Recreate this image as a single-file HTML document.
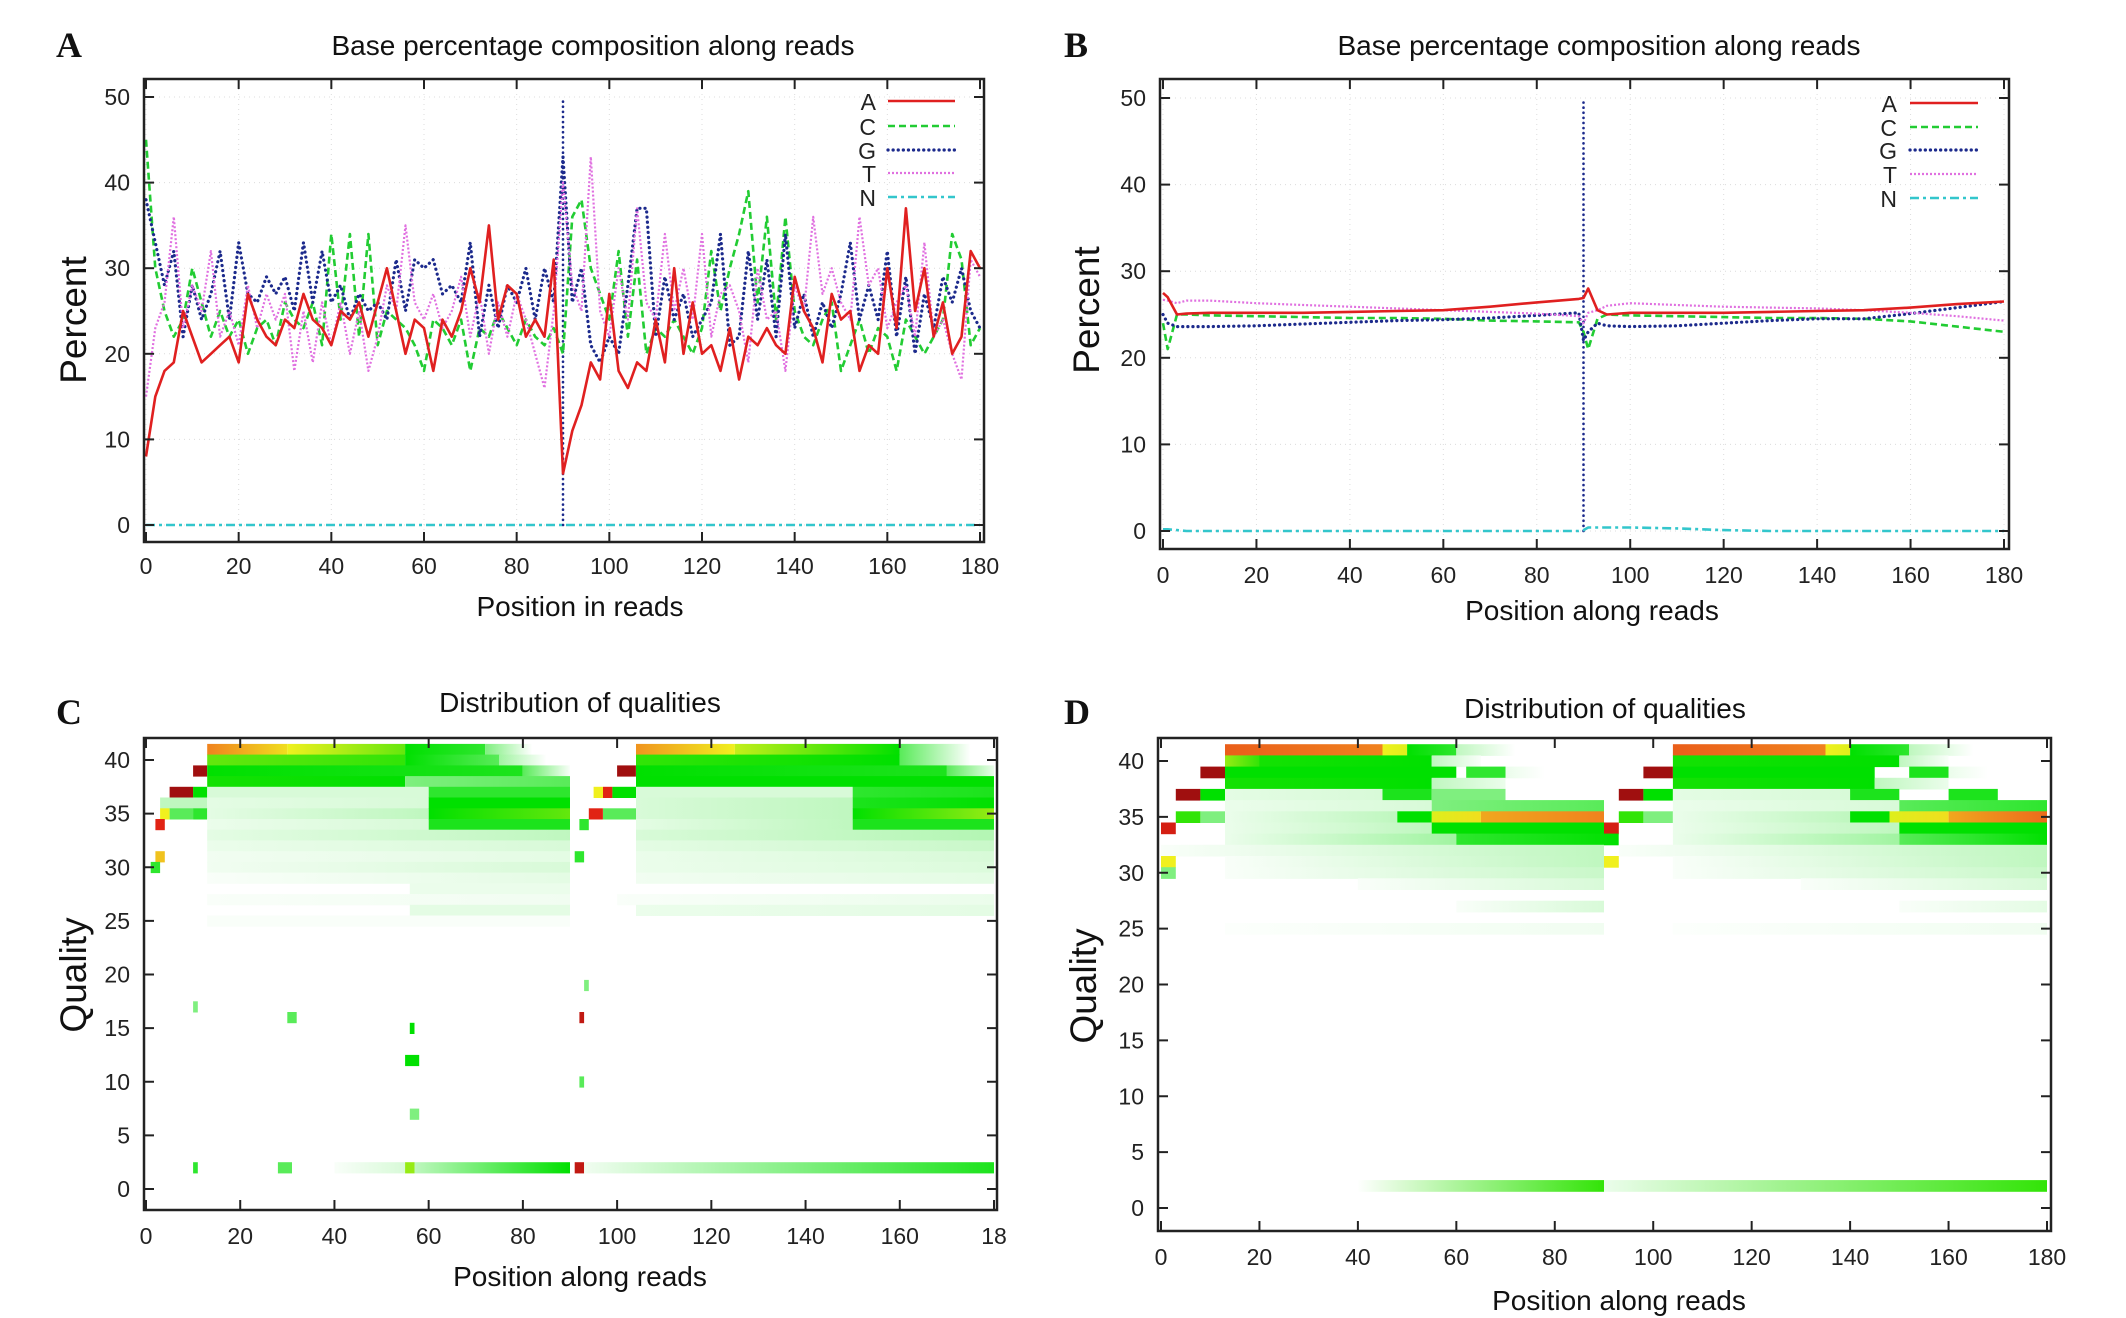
<!DOCTYPE html>
<html><head><meta charset="utf-8"><style>
html,body{margin:0;padding:0;background:#fff;}
svg{display:block;font-family:"Liberation Sans",sans-serif;}
</style></head><body>
<svg id="fig" width="2126" height="1318" viewBox="0 0 2126 1318" xmlns="http://www.w3.org/2000/svg"></svg>
<script>
// ---------- Panel A data (every 2 positions, 0..180) ----------
const posA = [];
for (let p = 0; p <= 180; p += 2) posA.push(p);
const aA = [8,15,18,19,25,22,19,20,21,22,19,27,24,22,21,24,23,27,24,23,21,25,24,26,22,26,30,25,20,24,23,18,24,22,25,30,26,35,24,28,27,22,24,22,31,6,11,14,19,17,27,18,16,19,18,24,19,30,20,26,20,21,18,23,17,22,21,23,21,20,29,25,23,19,27,24,25,18,21,20,30,23,37,25,30,22,26,20,22,32,30];
const cA = [45,30,25,22,24,30,26,22,25,22,24,20,23,24,21,26,24,23,26,21,34,24,34,22,34,21,25,24,23,21,18,24,23,21,24,18,23,22,25,23,21,24,22,21,23,20,36,38,30,27,24,32,22,31,20,23,22,24,22,20,23,32,25,30,34,39,26,36,24,36,25,22,21,24,26,18,21,24,20,23,22,18,24,22,20,22,24,34,31,21,23];
const gA = [38,33,28,32,22,28,24,27,32,24,33,27,26,29,27,29,25,33,26,32,26,28,24,27,25,26,24,31,25,31,30,31,27,28,26,33,22,28,23,28,26,30,24,30,26,43,26,30,21,19,22,20,28,37,37,22,29,24,27,22,24,26,34,21,22,32,24,31,22,34,23,27,22,26,23,27,33,24,28,24,32,22,29,20,27,23,29,26,30,25,23];
const tA = [15,23,26,36,23,28,25,32,22,25,21,28,23,27,24,27,18,25,19,26,21,26,20,25,18,22,28,25,35,26,24,27,23,25,29,22,27,20,26,22,27,24,20,16,25,40,28,25,43,25,22,30,24,37,26,24,34,25,30,24,34,22,27,28,25,19,30,24,25,18,28,25,36,27,30,26,24,36,28,30,23,26,28,22,33,22,24,20,17,31,29];
const nA = posA.map(()=>0);
const spikeA = [90, 0, 50];

// ---------- Panel B data ----------
const posB = [0,1,3,5,10,20,30,40,50,60,70,80,89,90,91,93,95,100,110,120,130,140,150,160,170,180];
const aB = [27.5,27,25,25.1,25.2,25.2,25.2,25.3,25.4,25.5,25.9,26.4,26.8,26.9,28,25.5,25,25.2,25.2,25.2,25.3,25.4,25.5,25.8,26.2,26.5];
const cB = [24,21,25,25,24.9,24.8,24.7,24.6,24.6,24.5,24.3,24.2,24.1,23,21,24.5,25,24.9,24.8,24.7,24.6,24.6,24.5,24.2,23.6,23];
const gB = [25,24,23.6,23.6,23.6,23.7,23.9,24.1,24.3,24.4,24.6,24.9,25.2,22,23,24,23.7,23.6,23.7,24,24.3,24.5,24.5,25.1,25.8,26.5];
const tB = [26.7,26.6,26.3,26.6,26.6,26.3,26.1,25.9,25.7,25.5,25.3,25.1,24.8,24,25.2,25.5,26,26.3,26.1,25.9,25.8,25.7,25.5,25.2,24.8,24.3];
const nB = [0.2,0.2,0.1,0,0,0,0,0,0,0,0,0,0,0.1,0.4,0.4,0.4,0.4,0.3,0.1,0,0,0,0,0,0];
const spikeB = [90, 0, 50];

// ---------- Panel C heatmap segments: [quality, startPos, endPos, startIntensity, endIntensity] ----------
const cSegs = [
 [41,13,30,0.82,0.72],[41,30,55,0.7,0.55],[41,55,72,0.45,0.4],[41,72,82,0.3,0],
 [41,104,125,0.8,0.7],[41,125,160,0.65,0.45],[41,160,175,0.35,0],
 [40,13,55,0.55,0.5],[40,55,75,0.45,0.35],[40,75,85,0.25,0],[40,104,160,0.5,0.45],[40,160,175,0.35,0],
 [39,10,13,1,1],[39,13,80,0.45,0.42],[39,80,90,0.35,0.05],[39,100,104,1,1],[39,104,170,0.45,0.42],[39,170,180,0.35,0.1],
 [38,13,55,0.47,0.45],[38,55,90,0.3,0.35],[38,104,180,0.45,0.45],
 [37,5,10,1,1],[37,10,13,0.45,0.45],[37,13,60,0.15,0.15],[37,60,90,0.4,0.4],[37,95,97,0.7,0.7],[37,97,99,0.9,0.9],[37,99,104,0.45,0.45],[37,104,150,0.15,0.15],[37,150,180,0.4,0.42],
 [36,3,13,0.2,0.2],[36,13,60,0.12,0.15],[36,60,90,0.45,0.45],[36,104,150,0.15,0.2],[36,150,180,0.42,0.45],
 [35,3,5,0.7,0.7],[35,5,10,0.35,0.35],[35,10,13,0.4,0.4],[35,13,60,0.12,0.2],[35,60,90,0.45,0.55],[35,94,97,0.9,0.9],[35,97,104,0.35,0.35],[35,104,150,0.15,0.2],[35,150,180,0.45,0.6],
 [34,2,4,0.9,0.9],[34,13,60,0.1,0.15],[34,60,90,0.42,0.42],[34,92,94,0.4,0.4],[34,104,150,0.12,0.2],[34,150,180,0.42,0.42],
 [33,13,90,0.12,0.2],[33,104,180,0.15,0.22],
 [32,13,90,0.1,0.15],[32,104,180,0.12,0.18],
 [31,2,4,0.75,0.75],[31,91,93,0.4,0.4],[31,13,90,0.08,0.12],[31,104,180,0.1,0.15],
 [30,1,3,0.4,0.4],[30,13,90,0.08,0.15],[30,104,180,0.1,0.14],
 [29,13,90,0.05,0.12],[29,104,180,0.08,0.12],
 [28,56,90,0.1,0.1],[27,13,90,0.05,0.08],[27,100,180,0.05,0.1],
 [26,56,90,0.12,0.12],[26,104,180,0.1,0.12],[25,13,90,0.05,0.05],
 [2,10,11,0.4,0.4],[2,28,31,0.35,0.35],[2,40,55,0.05,0.15],[2,55,57,0.6,0.6],[2,57,90,0.2,0.45],[2,91,93,0.95,0.95],[2,93,180,0.08,0.42],
 [16,92,93,0.95,0.95],[15,56,57,0.45,0.45],[12,55,58,0.45,0.45],[17,10,11,0.3,0.3],[16,30,32,0.35,0.35],[10,92,93,0.35,0.35],[7,56,58,0.3,0.3],[19,93,94,0.3,0.3]
];

// ---------- Panel D heatmap segments ----------
const dSegs = [
 [41,13,45,0.85,0.82],[41,45,50,0.7,0.68],[41,50,60,0.45,0.4],[41,60,72,0.2,0],
 [41,104,135,0.85,0.82],[41,135,140,0.7,0.68],[41,140,152,0.45,0.4],[41,152,165,0.2,0],
 [40,13,20,0.6,0.5],[40,20,55,0.47,0.45],[40,55,65,0.2,0.05],[40,104,150,0.47,0.45],[40,150,160,0.2,0.05],
 [39,8,13,1,1],[39,13,60,0.45,0.45],[39,62,70,0.4,0.4],[39,70,78,0.1,0],[39,98,104,1,1],[39,104,145,0.45,0.45],[39,152,160,0.42,0.42],[39,160,168,0.1,0],
 [38,13,55,0.47,0.45],[38,55,70,0.2,0.1],[38,104,145,0.47,0.45],[38,145,160,0.2,0.1],
 [37,3,8,1,1],[37,8,13,0.45,0.45],[37,13,45,0.12,0.15],[37,45,55,0.42,0.42],[37,55,70,0.3,0.3],[37,93,98,1,1],[37,98,104,0.45,0.45],[37,104,140,0.12,0.15],[37,140,150,0.42,0.42],[37,160,170,0.42,0.42],
 [36,13,55,0.1,0.15],[36,55,90,0.3,0.35],[36,104,150,0.1,0.15],[36,150,180,0.35,0.4],
 [35,3,8,0.5,0.5],[35,8,13,0.3,0.3],[35,13,48,0.1,0.2],[35,48,55,0.45,0.45],[35,55,65,0.68,0.72],[35,65,90,0.78,0.82],[35,93,98,0.5,0.5],[35,98,104,0.3,0.3],[35,104,140,0.1,0.2],[35,140,148,0.45,0.45],[35,148,160,0.68,0.72],[35,160,180,0.78,0.84],
 [34,0,3,0.92,0.92],[34,13,55,0.1,0.2],[34,55,90,0.45,0.45],[34,90,93,0.92,0.92],[34,104,150,0.1,0.2],[34,150,180,0.45,0.45],
 [33,13,60,0.1,0.25],[33,60,93,0.4,0.45],[33,104,150,0.1,0.25],[33,150,180,0.35,0.45],
 [32,0,90,0.05,0.2],[32,93,180,0.05,0.2],
 [31,0,3,0.7,0.7],[31,90,93,0.7,0.7],[31,13,90,0.05,0.2],[31,104,180,0.05,0.2],
 [30,0,3,0.3,0.3],[30,13,90,0.05,0.18],[30,104,180,0.05,0.18],
 [29,40,90,0.05,0.15],[29,130,180,0.05,0.15],
 [27,60,90,0.05,0.15],[27,150,180,0.05,0.12],
 [25,13,90,0.03,0.08],[25,104,180,0.03,0.08],
 [2,40,90,0.02,0.5],[2,90,180,0.1,0.5]
];

const xTicks = [0,20,40,60,80,100,120,140,160,180];
const xTickLabelsC = ["0","20","40","60","80","100","120","140","160","18"];
const yTicksPct = [0,10,20,30,40,50];
const yTicksQ = [0,5,10,15,20,25,30,35,40];
const legendKeys = ["A","C","G","T","N"];

const NS = "http://www.w3.org/2000/svg";
const svg = document.getElementById('fig');
function mk(tag, attrs, parent, text){
  const e = document.createElementNS(NS, tag);
  for (const k in attrs) e.setAttribute(k, attrs[k]);
  if (text !== undefined) e.textContent = text;
  (parent || svg).appendChild(e);
  return e;
}
const defs = mk('defs', {});

const STY = {
  A:{stroke:'#e02020', dash:'', w:2.6, cap:'butt'},
  C:{stroke:'#22cc33', dash:'7,4', w:2.6, cap:'butt'},
  G:{stroke:'#1c2a8c', dash:'0.1,5', w:3.2, cap:'round'},
  T:{stroke:'#e070e0', dash:'2,2', w:2.2, cap:'butt'},
  N:{stroke:'#33c6cc', dash:'9,4,3,4', w:2.6, cap:'butt'}
};

function frame(g, box, xs, ys, xTickVals, yTickVals){
  xTickVals.forEach(v=>{
    const l = mk('line',{x1:xs(v),x2:xs(v),y1:box.t,y2:box.b,stroke:'#dcdcdc','stroke-width':1,'stroke-dasharray':'1,4'},g);
     
  });
  yTickVals.forEach(v=>{
    const l = mk('line',{x1:box.l,x2:box.r,y1:ys(v),y2:ys(v),stroke:'#dcdcdc','stroke-width':1,'stroke-dasharray':'1,4'},g);
     
  });
}
function axes(g, box, xs, ys, xTickVals, xLabels, yTickVals, o){
  const r = mk('rect',{x:box.l,y:box.t,width:box.r-box.l,height:box.b-box.t,fill:'none',stroke:'#222','stroke-width':2.5},g);
   
  xTickVals.forEach((v,i)=>{
    const x = xs(v);
    mk('line',{x1:x,x2:x,y1:box.b,y2:box.b-10,stroke:'#222','stroke-width':2},g);
    mk('line',{x1:x,x2:x,y1:box.t,y2:box.t+10,stroke:'#222','stroke-width':2},g);
    const t = mk('text',{x:x,y:o.xTickY,'text-anchor':'middle','font-size':23,fill:'#222'},g,xLabels[i]);
     
  });
  yTickVals.forEach(v=>{
    const y = ys(v);
    mk('line',{x1:box.l,x2:box.l+10,y1:y,y2:y,stroke:'#222','stroke-width':2},g);
    mk('line',{x1:box.r,x2:box.r-10,y1:y,y2:y,stroke:'#222','stroke-width':2},g);
    const t = mk('text',{x:box.l-14,y:y+8,'text-anchor':'end','font-size':23,fill:'#222'},g,String(v));
     
  });
  const tt = mk('text',{x:o.titleX,y:o.titleY,'text-anchor':'middle','font-size':28,fill:'#111'},g,o.title);
   
  const xl = mk('text',{x:o.xlX,y:o.xlY,'text-anchor':'middle','font-size':28,fill:'#111'},g,o.xlabel);
   
  const yl = mk('text',{x:0,y:0,'text-anchor':'middle','font-size':37,fill:'#111',transform:`translate(${o.ylX},${o.ylY}) rotate(-90)`},g,o.ylabel);
   
  const pl = mk('text',{x:o.letterX,y:o.letterY,'font-size':36,'font-weight':'bold','font-family':'"Liberation Serif",serif',fill:'#111'},g,o.letter);
   
}

function linePanel(o, pos, series, spike){
  const g = mk('g',{});  
  const box = o.box;
  const xs = v => o.x0 + (v/180)*(o.x180-o.x0);
  const ys = v => o.y0 + (v/50)*(o.y50-o.y0);
  frame(g, box, xs, ys, xTicks, yTicksPct);
  const sp = mk('line',{x1:xs(spike[0]),x2:xs(spike[0]),y1:ys(spike[1]),y2:ys(spike[2]),stroke:STY.G.stroke,'stroke-width':2.6,'stroke-dasharray':'0.1,5','stroke-linecap':'round'},g);
   
  ['C','G','T','A','N'].forEach(k=>{
    const vals = series[k];
    const d = vals.map((v,i)=>(i?'L':'M')+xs(pos[i]).toFixed(1)+','+ys(v).toFixed(1)).join(' ');
    const s = STY[k];
    const p = mk('path',{d:d,fill:'none',stroke:s.stroke,'stroke-width':s.w,'stroke-dasharray':s.dash,'stroke-linecap':s.cap,'stroke-linejoin':'round'},g);
     
  });
  legendKeys.forEach((k,i)=>{
    const y = o.legY[i];
    const lt = mk('text',{x:o.legTextX,y:y+9,'text-anchor':'end','font-size':23,fill:'#222'},g,k);
     
    const s = STY[k];
    const ll = mk('line',{x1:o.legL0,x2:o.legL1,y1:y,y2:y,stroke:s.stroke,'stroke-width':s.w,'stroke-dasharray':s.dash,'stroke-linecap':s.cap},g);
     
  });
  axes(g, box, xs, ys, xTicks, xTicks.map(String), yTicksPct, o);
}

const STOPS = [[0,[255,255,255]],[0.45,[0,224,0]],[0.6,[150,235,20]],[0.7,[240,240,30]],[0.82,[240,130,30]],[0.9,[225,35,20]],[1,[160,15,15]]];
function col(v){
  v = Math.max(0,Math.min(1,v));
  for (let i=1;i<STOPS.length;i++){
    if (v<=STOPS[i][0]){
      const [a,ca]=STOPS[i-1],[b,cb]=STOPS[i]; let t=(v-a)/(b-a);
      if (i===1) t = Math.pow(t,1.7);
      return 'rgb('+ca.map((c,j)=>Math.round(c+(cb[j]-c)*t)).join(',')+')';
    }
  }
  return 'rgb(160,15,15)';
}
let gid = 0;
function heatPanel(o, segs){
  const g = mk('g',{});  
  const box = o.box;
  const xs = v => o.x0 + (v/180)*(o.x180-o.x0);
  const ys = v => o.y0 + (v/40)*(o.y40-o.y0);
  segs.forEach(sg=>{
    const [q,x0,x1,v0,v1] = sg;
    const id = 'hg'+(gid++);
    const lg = mk('linearGradient',{id:id,x1:0,x2:1,y1:0,y2:0},defs);
    mk('stop',{offset:0,'stop-color':col(v0)},lg);
    mk('stop',{offset:1,'stop-color':col(v1)},lg);
    const x = xs(x0), w = Math.max(1, xs(x1)-xs(x0));
    const y = ys(q+0.5), h = ys(q-0.5)-ys(q+0.5);
    const r = mk('rect',{x:x.toFixed(1),y:y.toFixed(1),width:w.toFixed(1),height:(h+0.5).toFixed(1),fill:`url(#${id})`},g);
     
  });
  axes(g, box, xs, ys, xTicks, o.xLabels, yTicksQ, o);
}

linePanel({name:'panel-a-base-composition', box:{l:144,r:984,t:79,b:542}, x0:146,x180:980,y0:525,y50:97,
  title:'Base percentage composition along reads', titleX:593, titleY:55, xlabel:'Position in reads', xlX:580, xlY:616,
  ylabel:'Percent', ylX:86, ylY:320, letter:'A', letterX:56, letterY:57, xTickY:574,
  legY:[101,126,150,173,197], legTextX:876, legL0:888, legL1:955},
  posA, {A:aA,C:cA,G:gA,T:tA,N:nA}, spikeA);

linePanel({name:'panel-b-base-composition', box:{l:1160,r:2009,t:79,b:549}, x0:1163,x180:2004,y0:531,y50:98,
  title:'Base percentage composition along reads', titleX:1599, titleY:55, xlabel:'Position along reads', xlX:1592, xlY:620,
  ylabel:'Percent', ylX:1099, ylY:310, letter:'B', letterX:1064, letterY:57, xTickY:583,
  legY:[103,127,150,174,198], legTextX:1897, legL0:1910, legL1:1978},
  posB, {A:aB,C:cB,G:gB,T:tB,N:nB}, spikeB);

heatPanel({name:'panel-c-quality-distribution', box:{l:144,r:997,t:738,b:1210}, x0:146,x180:994,y0:1189,y40:760,
  title:'Distribution of qualities', titleX:580, titleY:712, xlabel:'Position along reads', xlX:580, xlY:1286,
  ylabel:'Quality', ylX:86, ylY:975, letter:'C', letterX:56, letterY:724, xTickY:1244, xLabels:xTickLabelsC},
  cSegs);

heatPanel({name:'panel-d-quality-distribution', box:{l:1158,r:2051,t:738,b:1231}, x0:1161,x180:2047,y0:1208,y40:761,
  title:'Distribution of qualities', titleX:1605, titleY:718, xlabel:'Position along reads', xlX:1619, xlY:1310,
  ylabel:'Quality', ylX:1096, ylY:986, letter:'D', letterX:1064, letterY:724, xTickY:1265, xLabels:xTicks.map(String)},
  dSegs);
</script>
</body></html>
